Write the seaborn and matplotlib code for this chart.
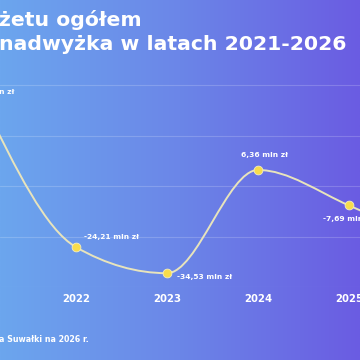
import numpy as np
import matplotlib
matplotlib.use("Agg")
import matplotlib.pyplot as plt
from matplotlib.path import Path
from matplotlib.patches import PathPatch
from matplotlib.colors import LinearSegmentedColormap
import seaborn as sns

# dane: wynik budżetu (mln zł)
lata = [2021, 2022, 2023, 2024, 2025, 2026]
wartosci = [31.84, -24.21, -34.53, 6.36, -7.69, -25.0]
etykiety = ["31,84 mln zł", "-24,21 mln zł", "-34,53 mln zł", "6,36 mln zł", "-7,69 mln zł", "-25,00 mln zł"]
# przesunięcia etykiet (punkty) i wyrównanie
offs = [(2, 10), (6, 7), (7, -3), (5, 11), (-1, -10), (0, 10)]
align = ["center", "left", "left", "center", "center", "center"]

sns.set_style("white")
plt.rcParams["font.family"] = ["DejaVu Sans"]


def monotone_path(xs, ys):
    # krzywa monotoniczna (jak d3.curveMonotoneX), jako odcinki Beziera
    xs = np.asarray(xs, float)
    ys = np.asarray(ys, float)
    n = len(xs)
    h = np.diff(xs)
    s = np.diff(ys) / h
    t = np.zeros(n)
    for i in range(1, n - 1):
        p = (s[i - 1] * h[i] + s[i] * h[i - 1]) / (h[i - 1] + h[i])
        t[i] = (np.sign(s[i - 1]) + np.sign(s[i])) * min(abs(s[i - 1]), abs(s[i]), 0.5 * abs(p))
    t[0] = (3 * s[0] - t[1]) / 2
    t[-1] = (3 * s[-1] - t[-2]) / 2
    verts = [(xs[0], ys[0])]
    codes = [Path.MOVETO]
    for i in range(n - 1):
        dx = h[i] / 3
        verts += [(xs[i] + dx, ys[i] + dx * t[i]), (xs[i + 1] - dx, ys[i + 1] - dx * t[i + 1]),
                  (xs[i + 1], ys[i + 1])]
        codes += [Path.CURVE4] * 3
    return Path(verts, codes)


fig = plt.figure(figsize=(3.6, 3.6), dpi=100)

# tło z gradientem
bg = fig.add_axes([0, 0, 1, 1])
cmap = LinearSegmentedColormap.from_list("bg", ["#6ca6ee", "#6b86e8", "#6a5ce2"])
grad = np.linspace(0, 1, 256)[None, :] * np.ones((64, 1))
bg.imshow(grad, cmap=cmap, aspect="auto", extent=[0, 1, 0, 1], origin="lower")
bg.axis("off")

ax = fig.add_axes([0, (360 - 287) / 360, 1, 287 / 360])
ax.patch.set_alpha(0)
ax.set_xlim(2021.165, 2021.165 + 360 / 91)
ax.set_ylim(-40, 73.7)
for s in ax.spines.values():
    s.set_visible(False)
ax.set_yticks([-40, -20, 0, 20, 40])
ax.set_yticklabels([])
ax.grid(axis="y", color="white", alpha=0.18, linewidth=0.8)
ax.set_xticks(lata[1:5])
ax.set_xticklabels([str(r) for r in lata[1:5]], color="white", fontsize=7.3, fontweight="bold")
ax.tick_params(axis="x", length=0, pad=5)
ax.tick_params(axis="y", length=0)

ax.add_patch(PathPatch(monotone_path(lata, wartosci), facecolor="none", edgecolor="#e8e4bc",
                       linewidth=1.4, zorder=3))

sns.scatterplot(x=lata, y=wartosci, ax=ax, color="#f8dc4c", s=40, edgecolor="#f3eec0",
                linewidth=0.6, zorder=4, clip_on=False)

for x, y, t, o, a in zip(lata, wartosci, etykiety, offs, align):
    ax.annotate(t, (x, y), xytext=o, textcoords="offset points", ha=a, va="center",
                color="white", fontsize=5.4, fontweight="bold", annotation_clip=False)

fig.text(-0.004, 0.944, "żetu ogółem", color="white", fontsize=14.7, fontweight="bold",
         ha="left", va="center")
fig.text(-0.004, 0.875, "nadwyżka w latach 2021-2026", color="white", fontsize=14.7,
         fontweight="bold", ha="left", va="center")
fig.text(-0.004, 0.056, "a Suwałki na 2026 r.", color="white", fontsize=5.7,
         fontweight="bold", ha="left", va="center")

fig.savefig("out.png", dpi=100)
